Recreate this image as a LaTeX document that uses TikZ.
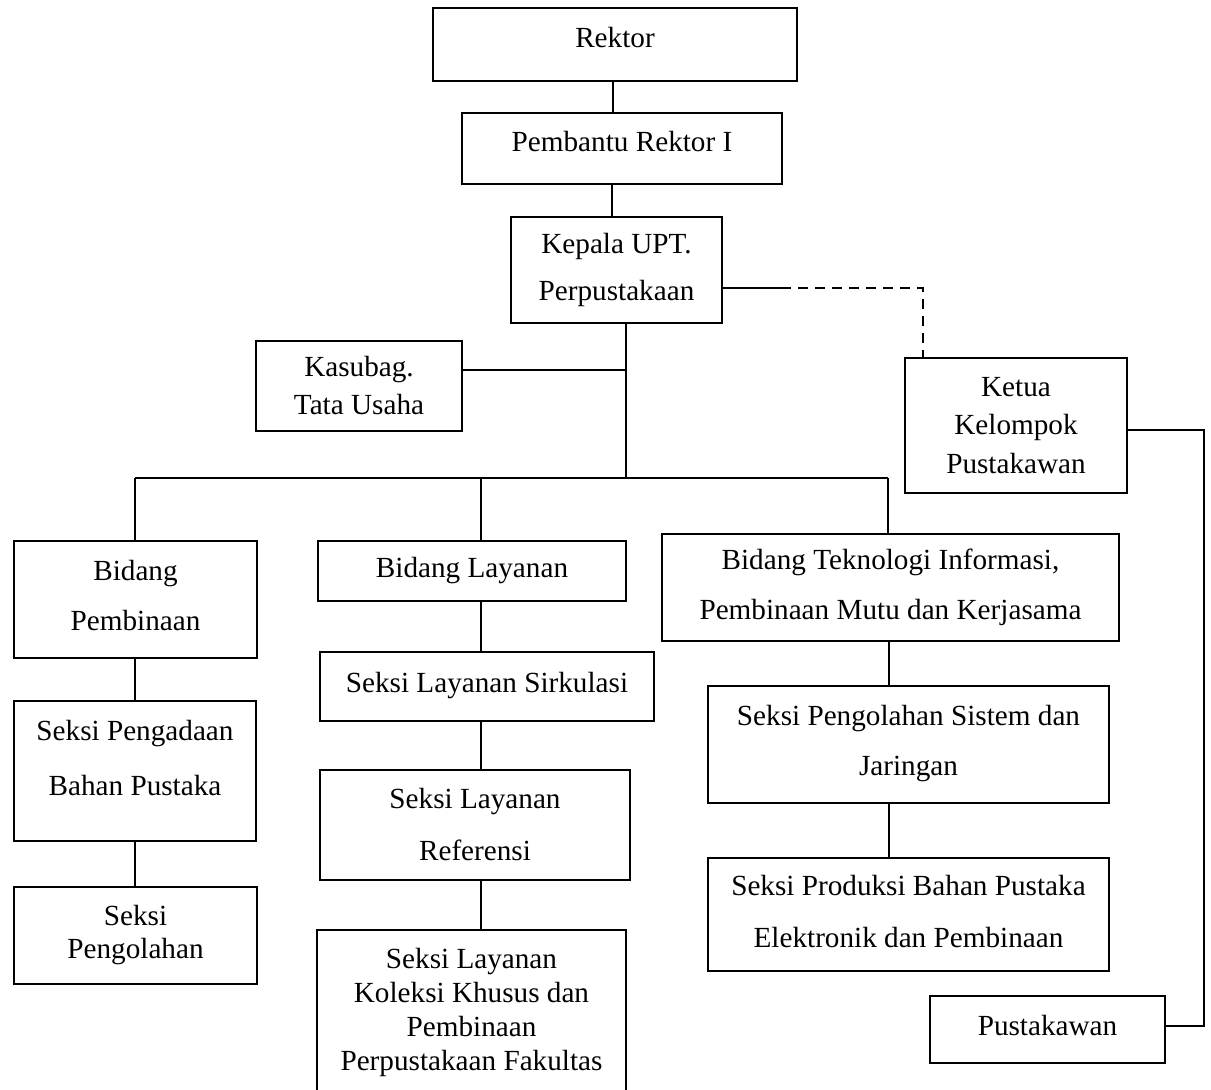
\documentclass[tikz,border=0pt]{standalone}
\usepackage{fontspec}
\setmainfont{Liberation Serif}
\newcommand{\boxfont}[1]{\fontsize{29.2}{#1}\selectfont}
\tikzset{
  box/.style={draw, line width=1.8pt, inner sep=0pt, align=center, font=\boxfont{38}},
  conn/.style={line width=1.8pt},
  dashconn/.style={line width=1.8pt, dash pattern=on 10pt off 7pt}
}
\begin{document}
\begin{tikzpicture}[x=1pt,y=-1pt]
\useasboundingbox (0,0) rectangle (1211,1090);
% boxes
\node[box, minimum width=364pt, minimum height=73pt, text depth=15pt] (rektor) at (615,44.5) {Rektor};
\node[box, minimum width=320pt, minimum height=71pt, text depth=15pt] (pr1) at (622,148.5) {Pembantu Rektor I};
\node[box, font=\boxfont{47}, minimum width=211pt, minimum height=106pt] (kepala) at (616.5,270) {Kepala UPT.\\Perpustakaan};
\node[box, minimum width=206pt, minimum height=90pt] (kasubag) at (359,386) {Kasubag.\\Tata Usaha};
\node[box, font=\boxfont{38.5}, minimum width=222pt, minimum height=135pt] (ketua) at (1016,425.5) {Ketua\\Kelompok\\Pustakawan};
\node[box, font=\boxfont{50}, minimum width=243pt, minimum height=117pt, text depth=8pt] (bpemb) at (135.5,599.5) {Bidang\\Pembinaan};
\node[box, minimum width=308pt, minimum height=60pt] (blay) at (472,571) {Bidang Layanan};
\node[box, font=\boxfont{50}, minimum width=457pt, minimum height=107pt] (btek) at (890.5,587.5) {Bidang Teknologi Informasi,\\Pembinaan Mutu dan Kerjasama};
\node[box, font=\boxfont{55}, minimum width=242pt, minimum height=140pt, text depth=26pt] (pengadaan) at (135,771) {Seksi Pengadaan\\Bahan Pustaka};
\node[box, font=\boxfont{33}, minimum width=243pt, minimum height=97pt] (pengolahan) at (135.5,935.5) {Seksi\\Pengolahan};
\node[box, minimum width=334pt, minimum height=69pt, text depth=9pt] (sirkulasi) at (487,686.5) {Seksi Layanan Sirkulasi};
\node[box, font=\boxfont{52}, minimum width=310pt, minimum height=110pt] (referensi) at (475,825) {Seksi Layanan\\Referensi};
\node[box, font=\boxfont{34}, minimum width=309pt, minimum height=164pt] (koleksi) at (471.5,1012) {Seksi Layanan\\Koleksi Khusus dan\\Pembinaan\\Perpustakaan Fakultas};
\node[box, font=\boxfont{50}, minimum width=401pt, minimum height=117pt, text depth=8pt] (sistem) at (908.5,744.5) {Seksi Pengolahan Sistem dan\\Jaringan};
\node[box, font=\boxfont{52}, minimum width=401pt, minimum height=113pt, text depth=6pt] (produksi) at (908.5,914.5) {Seksi Produksi Bahan Pustaka\\Elektronik dan Pembinaan};
\node[box, minimum width=235pt, minimum height=67pt, text depth=9pt] (pustakawan) at (1047.5,1029.5) {Pustakawan};
% helper coordinates
\coordinate (x613) at (613,0);
\coordinate (x612) at (612,0);
\coordinate (x626) at (626,0);
\coordinate (x135) at (135,0);
\coordinate (x481) at (481,0);
\coordinate (x888) at (888,0);
\coordinate (x889) at (889,0);
\coordinate (bus) at (0,478);
\coordinate (busL) at (135,478);
\coordinate (busR) at (888,478);
\coordinate (busM) at (626,478);
\coordinate (y370) at (0,370);
\coordinate (y288) at (0,288);
\coordinate (y430) at (0,430);
\coordinate (y1026) at (0,1026);
\coordinate (dsolid) at (781,288);
\coordinate (dcorner) at (923,288);
\coordinate (rtop) at (1204,430);
\coordinate (rbot) at (1204,1026);
% connectors
\draw[conn] (rektor.south -| x613) -- (pr1.north -| x613);
\draw[conn] (pr1.south -| x612) -- (kepala.north -| x612);
\draw[conn] (kepala.south -| x626) -- (busM);
\draw[conn] (kasubag.east |- y370) -- (x626 |- y370);
\draw[conn] (busL) -- (busR);
\draw[conn] (busL) -- (bpemb.north -| x135);
\draw[conn] (x481 |- bus) -- (blay.north -| x481);
\draw[conn] (busR) -- (btek.north -| x888);
\draw[conn] (bpemb.south -| x135) -- (pengadaan.north -| x135);
\draw[conn] (pengadaan.south -| x135) -- (pengolahan.north -| x135);
\draw[conn] (blay.south -| x481) -- (sirkulasi.north -| x481);
\draw[conn] (sirkulasi.south -| x481) -- (referensi.north -| x481);
\draw[conn] (referensi.south -| x481) -- (koleksi.north -| x481);
\draw[conn] (btek.south -| x889) -- (sistem.north -| x889);
\draw[conn] (sistem.south -| x889) -- (produksi.north -| x889);
\draw[conn] (kepala.east |- y288) -- (dsolid);
\draw[dashconn] (dsolid) -- (dcorner) -- (ketua.north -| dcorner);
\draw[conn] (ketua.east |- y430) -- (rtop) -- (rbot) -- (pustakawan.east |- y1026);
\end{tikzpicture}
\end{document}
